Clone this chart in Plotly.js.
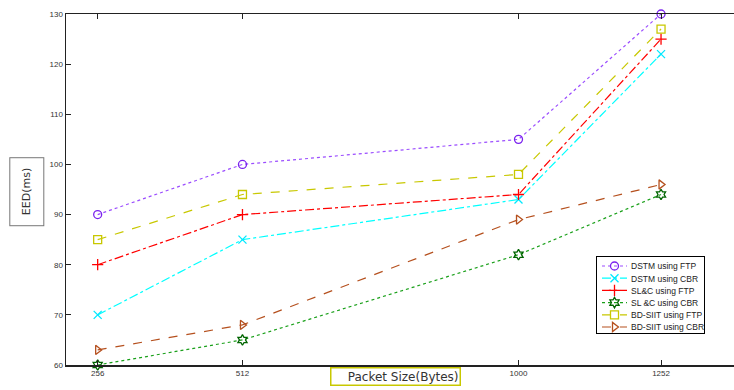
<!DOCTYPE html>
<html><head><meta charset="utf-8">
<script src="https://cdn.plot.ly/plotly-3.0.1.min.js"></script>
<style>body{margin:0;background:#fff}#c{width:734px;height:390px}</style>
</head><body><div id="c"></div>
<script>
const packetSizes = [256, 512, 1000, 1252];
const xTickLabels = ['256', '512', '1000', '1252'];
const seriesNames = ['DSTM using FTP', 'DSTM using CBR', 'SL&C using FTP', 'SL &C using CBR', 'BD-SIIT using FTP', 'BD-SIIT using CBR'];
const dstmFtp = [90, 100, 105, 130];
const dstmCbr = [70, 85, 93, 122];
const slcFtp = [80, 90, 94, 125];
const slcCbr = [60, 65, 82, 94];
const bdsiitFtp = [85, 94, 98, 127];
const bdsiitCbr = [63, 68, 89, 96];
const yTicks = [60, 70, 80, 90, 100, 110, 120, 130];

const styles = [
  {color:'#9b4dff', mcolor:'#7a22ee', dash:'dot', symbol:'circle-open'},
  {color:'#00ffff', mcolor:'#00e8ff', dash:'dashdot', symbol:'x-thin-open'},
  {color:'#ff0000', mcolor:'#ff0000', dash:'dashdot', symbol:'cross-thin-open'},
  {color:'#1aa01a', mcolor:'#006400', dash:'dot', symbol:'hexagram-open'},
  {color:'#c8c800', mcolor:'#c8c800', dash:'dash', symbol:'square-open'},
  {color:'#b5501e', mcolor:'#b5501e', dash:'dash', symbol:'triangle-right-open'}
];
const values = [dstmFtp, dstmCbr, slcFtp, slcCbr, bdsiitFtp, bdsiitCbr];
const traces = values.map((v, i) => ({
  x: packetSizes, y: v, name: seriesNames[i], type: 'scatter', mode: 'lines+markers',
  line: {color: styles[i].color, dash: styles[i].dash, width: 1.2},
  marker: {symbol: styles[i].symbol, size: 8, color: styles[i].mcolor, line: {color: styles[i].mcolor, width: 1.3}},
  cliponaxis: false
}));

const layout = {
  width: 734, height: 390,
  margin: {l: 66, r: 0, t: 14, b: 25},
  paper_bgcolor: '#fff', plot_bgcolor: '#fff',
  font: {family: 'Liberation Sans, Arial, sans-serif', size: 8, color: '#333'},
  showlegend: true,
  legend: {x: 0.796, y: 0.335, xanchor: 'left', yanchor: 'top', bgcolor: '#fff', bordercolor: '#000', borderwidth: 1,
    font: {size: 8.5, color: '#222'}, tracegroupgap: 0},
  xaxis: {
    range: [200, 1381], tickvals: packetSizes, ticktext: xTickLabels,
    showgrid: false, zeroline: false, showline: true, linecolor: '#222', linewidth: 1.5,
    ticks: 'inside', ticklen: 5, tickcolor: '#222', mirror: 'ticks',
    tickfont: {size: 8, color: '#333'}
  },
  yaxis: {
    range: [60, 130], tickvals: yTicks,
    showgrid: false, zeroline: false, showline: true, linecolor: '#222', linewidth: 1.5,
    ticks: 'inside', ticklen: 5, tickcolor: '#222', mirror: false,
    tickfont: {size: 8, color: '#333'}
  },
  annotations: [
    {text: 'EED(ms)', xref: 'paper', yref: 'paper', x: -0.058, y: 0.493, xanchor: 'center', yanchor: 'middle',
      textangle: -90, showarrow: false, font: {family: 'DejaVu Sans, sans-serif', size: 11, color: '#333'},
      bordercolor: '#777', borderwidth: 1, borderpad: 10},
    {text: '    Packet Size(Bytes)', xref: 'paper', yref: 'paper', x: 0.494, y: -0.006, xanchor: 'center', yanchor: 'top',
      showarrow: false, font: {family: 'DejaVu Sans, sans-serif', size: 12, color: '#333'},
      bordercolor: '#c8c800', borderwidth: 1.5, borderpad: 1}
  ]
};
Plotly.newPlot('c', traces, layout, {displayModeBar: false, staticPlot: true}).then(() => {
  // compact the legend to match the reference's MATLAB-style legend box
  const leg = document.querySelector('#c .legend');
  if (!leg) return;
  leg.setAttribute('transform', 'translate(596,256)');
  const bg = leg.querySelector('rect.bg');
  if (bg) { bg.setAttribute('x', 0); bg.setAttribute('y', 0); bg.setAttribute('width', 108); bg.setAttribute('height', 77); }
  const items = leg.querySelectorAll('g.traces');
  items.forEach((g, i) => {
    g.setAttribute('transform', 'translate(0,' + (10 + i * 12.2) + ')');
    g.querySelectorAll('g.legendlines path').forEach(p => p.setAttribute('d', 'M6,0h25'));
    g.querySelectorAll('g.legendpoints path').forEach(p => p.setAttribute('transform', 'translate(18.5,0)'));
    const t = g.querySelector('text.legendtext');
    if (t) t.setAttribute('x', 35);
  });
  const sb = leg.querySelector('.scrollbox');
  if (sb) sb.removeAttribute('clip-path');
});
</script></body></html>
